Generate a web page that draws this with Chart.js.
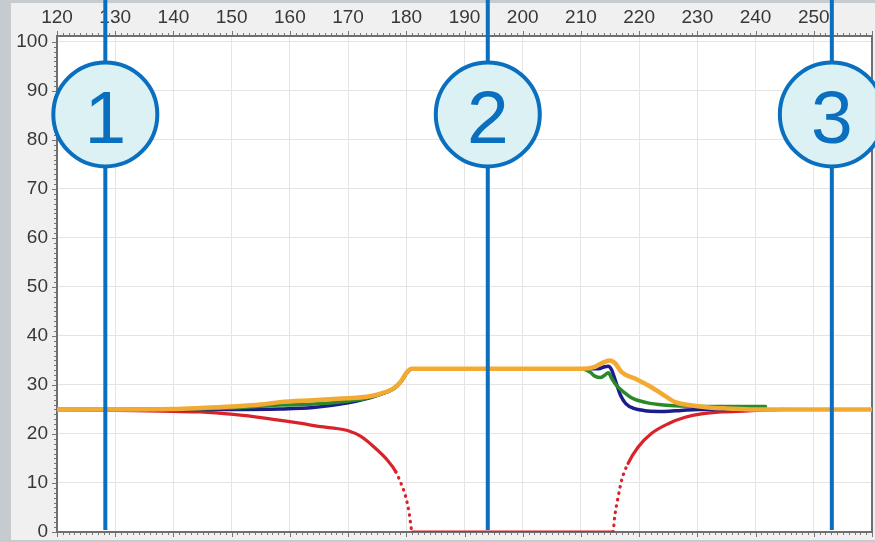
<!DOCTYPE html>
<html>
<head>
<meta charset="utf-8">
<script src="https://cdn.jsdelivr.net/npm/chart.js@4/dist/chart.umd.min.js"></script>
<style>
  html, body { margin: 0; padding: 0; background: #c5cbce; overflow: hidden; }
  #wrap { width: 875px; height: 542px; position: relative; }
</style>
</head>
<body>
<div id="wrap"><canvas id="c" width="875" height="542"></canvas></div>
<script>
// Axis ticks
const xTicks = [120, 130, 140, 150, 160, 170, 180, 190, 200, 210, 220, 230, 240, 250];
const yTicks = [0, 10, 20, 30, 40, 50, 60, 70, 80, 90, 100];

// Stage markers along the time axis
const stageX = [128.3, 194.0, 253.1];
const stageLabels = ['1', '2', '3'];

// Orange trace
const orangeX = [120, 130, 140, 144.6, 150, 155, 158.3, 164, 169.8, 173.2, 175.5, 177.8, 179, 180.1, 181,
                 190, 200, 210.1, 212.4, 213.5, 215.0, 215.9, 217.0, 219.3, 221.6, 223.9, 226.2, 228.5, 231.9,
                 235, 240, 250, 260];
const orangeY = [25, 25, 25.1, 25.3, 25.6, 26.0, 26.5, 26.9, 27.3, 27.6, 28.2, 29.3, 30.6, 32.6, 33.3,
                 33.3, 33.3, 33.3, 33.7, 34.4, 35.0, 34.4, 32.6, 31.3, 29.9, 28.2, 26.5, 25.9, 25.4,
                 25.2, 25, 25, 25];

// Green trace
const greenX = [120, 130, 140, 150, 158.3, 164, 169.8, 173.2, 175.5, 177.8, 179, 180.1, 181,
                190, 200, 210, 211.6, 212.4, 213.3, 214.1, 214.7, 215.3, 216.1, 217.3, 219.0, 221.3,
                224.2, 227.0, 231.6, 236, 241.7];
const greenY = [25, 25, 25.1, 25.3, 25.9, 26.1, 26.7, 27.3, 28.1, 29.2, 30.5, 32.5, 33.3,
                33.3, 33.3, 33.3, 32.6, 31.8, 31.5, 32.0, 32.5, 31.3, 29.9, 28.6, 27.2, 26.4,
                25.9, 25.7, 25.6, 25.6, 25.6];

// Blue trace
const blueX = [120, 130, 140, 150, 158.3, 164, 169.8, 173.2, 175.5, 177.8, 179, 180.1, 181,
               190, 200, 210, 213, 214.1, 214.7, 215.3, 215.6, 216.2, 216.8, 217.7, 219.1, 221.4,
               224.3, 227.2, 230.1, 234, 238];
const blueY = [25, 25, 25, 25, 25.1, 25.4, 26.3, 27.2, 28.1, 29.2, 30.5, 32.5, 33.3,
               33.3, 33.3, 33.3, 33.3, 33.7, 33.8, 33.0, 32.0, 29.9, 27.9, 26.2, 25.2, 24.7,
               24.6, 24.8, 25.0, 25.0, 25.0];

// Red trace
const redX = [120, 130, 140, 144.6, 150.3, 156, 161.7, 165.3, 167.6, 169.9, 172.2, 174.5, 176.8,
              178.2, 179.1, 179.9, 180.5, 180.9, 181, 215.5, 215.8, 216.4, 217, 218.1, 219.8,
              222.1, 225, 227.9, 230.7, 234.2, 238.8, 242, 245];
const redY = [25, 24.8, 24.6, 24.5, 24.0, 23.2, 22.2, 21.5, 21.2, 20.7, 19.5, 17.3, 14.6,
              12.3, 9.9, 7.2, 3.8, 0.4, 0, 0, 3.1, 7.2, 10.6, 14.0, 17.3,
              20.1, 22.1, 23.4, 24.1, 24.5, 24.7, 24.9, 25];

const pts = (xs, ys) => xs.map((x, i) => ({ x, y: ys[i] }));

const FONT = '"Liberation Sans", Arial, sans-serif';

// Grey panel and white plotting area
const panel = {
  id: 'panel',
  beforeDraw(chart) {
    const { ctx, chartArea: a, width, height } = chart;
    ctx.save();
    ctx.fillStyle = '#c5cbce';
    ctx.fillRect(0, 0, width, height);
    ctx.fillStyle = '#f0f0f0';
    ctx.fillRect(11, 3, width - 11, 537);
    ctx.fillStyle = '#ffffff';
    ctx.fillRect(a.left, a.top, a.right - a.left, a.bottom - a.top);
    ctx.restore();
  }
};

// Frame with minor tick marks
const frame = {
  id: 'frame',
  beforeDatasetsDraw(chart) {
    const { ctx, chartArea: a, scales: { x, y } } = chart;
    ctx.save();
    ctx.strokeStyle = '#777777';
    ctx.lineWidth = 1;
    ctx.beginPath();
    for (let v = 120; v <= 260; v += 1) {
      const px = Math.round(x.getPixelForValue(v)) + 0.5;
      const len = v % 10 === 0 ? 5 : 3;
      ctx.moveTo(px, a.top); ctx.lineTo(px, a.top - len);
      ctx.moveTo(px, a.bottom); ctx.lineTo(px, a.bottom + len);
    }
    for (let v = 0; v <= 100; v += 1) {
      const py = Math.round(y.getPixelForValue(v)) + 0.5;
      const len = v % 10 === 0 ? 5 : 3;
      ctx.moveTo(a.left, py); ctx.lineTo(a.left - len, py);
    }
    ctx.stroke();
    ctx.lineWidth = 2;
    ctx.strokeStyle = '#6f6f6f';
    ctx.strokeRect(a.left, a.top, a.right - a.left, a.bottom - a.top);
    ctx.restore();
  }
};

// Numbered stage markers
const stages = {
  id: 'stages',
  afterDraw(chart, args, opts) {
    const { ctx, chartArea: a, scales: { x, y } } = chart;
    const cy = y.getPixelForValue(opts.badgeValue);
    ctx.save();
    stageX.forEach((v, i) => {
      const px = x.getPixelForValue(v);
      ctx.strokeStyle = '#0a6fbf';
      ctx.lineWidth = 4;
      ctx.beginPath();
      ctx.moveTo(px, 0);
      ctx.lineTo(px, a.bottom - 2);
      ctx.stroke();
      ctx.beginPath();
      ctx.arc(px, cy, 52, 0, Math.PI * 2);
      ctx.fillStyle = '#dbf1f4';
      ctx.fill();
      ctx.stroke();
      ctx.fillStyle = '#0a6fbf';
      ctx.font = '75px ' + FONT;
      ctx.textAlign = 'center';
      ctx.textBaseline = 'alphabetic';
      ctx.fillText(stageLabels[i], px, cy + 29);
    });
    ctx.restore();
  }
};

const lineBase = {
  fill: false,
  pointRadius: 0,
  cubicInterpolationMode: 'monotone',
  borderCapStyle: 'round',
  borderJoinStyle: 'round'
};

new Chart(document.getElementById('c'), {
  type: 'line',
  data: {
    datasets: [
      { ...lineBase, label: 'orange', data: pts(orangeX, orangeY), borderColor: '#f2aa32', borderWidth: 4.5 },
      { ...lineBase, label: 'green', data: pts(greenX, greenY), borderColor: '#2a8a2a', borderWidth: 3.5 },
      { ...lineBase, label: 'blue', data: pts(blueX, blueY), borderColor: '#1c1c8c', borderWidth: 3.5 },
      {
        ...lineBase, label: 'red', data: pts(redX, redY), borderColor: '#d8232a', borderWidth: 3.2,
        segment: {
          borderDash: ctx => {
            const dx = Math.abs(ctx.p1.x - ctx.p0.x);
            const dy = Math.abs(ctx.p1.y - ctx.p0.y);
            return dy > 1.8 * dx ? [0.5, 6] : undefined;
          }
        }
      }
    ]
  },
  options: {
    responsive: false,
    animation: false,
    devicePixelRatio: 1,
    layout: { padding: { left: 11, top: 3, right: 3, bottom: 10 } },
    plugins: {
      legend: { display: false },
      tooltip: { enabled: false },
      stages: { badgeValue: 85.2 }
    },
    scales: {
      x: {
        type: 'linear',
        position: 'top',
        min: 120,
        max: 260,
        afterBuildTicks: s => { s.ticks = xTicks.map(v => ({ value: v })); },
        afterFit: s => { s.height = 33; s.paddingLeft = 0; s.paddingRight = 0; },
        grid: { color: '#e4e4e4', lineWidth: 1, drawTicks: false },
        border: { display: false },
        ticks: { color: '#383838', font: { family: FONT, size: 19 }, padding: 7, maxRotation: 0, autoSkip: false }
      },
      y: {
        type: 'linear',
        position: 'left',
        min: 0,
        max: 101.2,
        afterBuildTicks: s => { s.ticks = yTicks.map(v => ({ value: v })); },
        afterFit: s => { s.width = 46; s.paddingTop = 0; s.paddingBottom = 0; },
        grid: { color: '#e4e4e4', lineWidth: 1, drawTicks: false },
        border: { display: false },
        ticks: { color: '#383838', font: { family: FONT, size: 19 }, padding: 9, autoSkip: false }
      }
    }
  },
  plugins: [panel, frame, stages]
});
</script>
</body>
</html>
